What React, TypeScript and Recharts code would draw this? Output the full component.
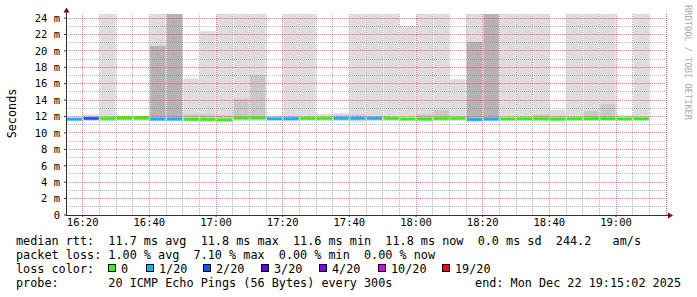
import React from 'react';
import { ComposedChart, Bar, Cell, XAxis, YAxis, ReferenceLine, CartesianGrid } from 'recharts';

const MONO = '"DejaVu Sans Mono", monospace';

// start of each 5 minute step, the last one has no sample yet
const slotStart = [
  '16:15', '16:20', '16:25', '16:30', '16:35', '16:40', '16:45', '16:50', '16:55',
  '17:00', '17:05', '17:10', '17:15', '17:20', '17:25', '17:30', '17:35', '17:40', '17:45', '17:50', '17:55',
  '18:00', '18:05', '18:10', '18:15', '18:20', '18:25', '18:30', '18:35', '18:40', '18:45', '18:50', '18:55',
  '19:00', '19:05', '19:10',
];

// median rtt (ms)
const median = [
  11.72, 11.8, 11.78, 11.82, 11.82, 11.72, 11.72, 11.68, 11.66,
  11.62, 11.84, 11.84, 11.76, 11.76, 11.8, 11.8, 11.8, 11.8, 11.8, 11.8, 11.74,
  11.72, 11.78, 11.8, 11.66, 11.72, 11.75, 11.76, 11.75, 11.72, 11.76, 11.76, 11.76,
  11.74, 11.76, null,
];

// lost pings out of 20
const lostPings = [
  1, 2, 0, 0, 0, 1, 1, 0, 0,
  0, 0, 0, 1, 1, 0, 0, 1, 1, 1, 0, 0,
  0, 0, 0, 1, 1, 0, 0, 0, 0, 0, 0, 0,
  0, 0, null,
];

// smoke: fastest ping, slowest ping (clipped at graph top), top of the denser bands
const smokeLow = [
  11.45, 11.5, 11.4, 11.5, 11.5, 11.45, 11.45, 11.45, 11.4,
  11.35, 11.5, 11.5, 11.5, 11.4, 11.5, 11.5, 11.5, 11.4, 11.5, 11.5, 11.45,
  11.4, 11.5, 11.5, 11.4, 11.45, 11.45, 11.5, 11.4, 11.4, 11.5, 11.5, 11.5,
  11.5, 11.5, null,
];
const smokeHigh = [
  11.95, 12.2, 24.5, 12.0, 12.0, 24.5, 24.5, 16.6, 22.4,
  24.5, 24.5, 24.5, 12.0, 24.5, 24.5, 12.3, 12.4, 24.5, 24.5, 24.5, 23.05,
  24.5, 24.5, 16.5, 24.5, 24.5, 24.5, 24.5, 24.5, 12.8, 24.5, 24.5, 24.5,
  12.1, 24.5, null,
];
const denseTop = [
  null, null, null, null, null, null, null, 12.3, 12.3,
  12.2, 14.15, 17.1, null, 12.05, null, null, 12.2, 12.3, 12.1, null, null,
  12.3, 12.8, null, null, null, null, null, 12.3, 12.1, null, 12.75, 13.55,
  null, null, null,
];
const heavyTop = [
  null, null, null, null, null, 20.65, 24.5, null, null,
  null, null, null, null, null, null, null, null, null, null, null, null,
  null, null, null, 21.15, 24.5, null, null, null, null, null, null, null,
  null, null, null,
];

const xTickLabels = ['16:20', '16:40', '17:00', '17:20', '17:40', '18:00', '18:20', '18:40', '19:00'];
const yTickValues = [0, 2, 4, 6, 8, 10, 12, 14, 16, 18, 20, 22, 24];

const lossSteps = [0, 1, 2, 3, 4, 10, 19];
const lossLabels = ['0', '1/20', '2/20', '3/20', '4/20', '10/20', '19/20'];
const lossColors = ['#26ff00', '#00b8ff', '#0059ff', '#5e00ff', '#7e00ff', '#dd00ff', '#ff0000'];

const LIGHT = '#dddddd';
const DENSE = '#c8c8c8';
const HEAVY = '#b4b4b4';
const AXIS = '#333333';
const MAJOR = 'rgba(255,0,0,0.45)';
const MINOR = 'rgba(128,128,128,0.55)';
const STEP = 5;
const HALF = 0.18; // half thickness of the median line in ms

const toMin = (s: string) => {
  const [h, m] = s.split(':').map(Number);
  return h * 60 + m;
};
const fmtMin = (m: number) => `${Math.floor(m / 60)}:${String(m % 60).padStart(2, '0')}`;

const lossColor = (n: number) => {
  let idx = 0;
  lossSteps.forEach((s, i) => {
    if (n >= s) idx = i;
  });
  return lossColors[idx];
};

const slotMin = slotStart.map(toMin);
const tStart = slotMin[0];
const tEnd = slotMin[slotMin.length - 1] + STEP;
const majorX = xTickLabels.map(toMin);

const rows = slotStart.map((_, i) => {
  const t = slotMin[i] + STEP / 2;
  const m = median[i];
  if (m == null) return { t };
  const lo = smokeLow[i] as number;
  const mTop = m + HALF;
  const hv = Math.max(heavyTop[i] ?? mTop, mTop);
  const dn = Math.max(denseTop[i] ?? hv, hv);
  const top = Math.max(smokeHigh[i] as number, dn);
  return {
    t,
    base: lo,
    under: m - HALF - lo,
    med: 2 * HALF,
    heavy: hv - mTop,
    dense: dn - hv,
    light: top - dn,
    color: lossColor(lostPings[i] as number),
  };
});

// minor vertical grid every step, except where a labelled (major) line sits
const minorX = [...slotMin.slice(1), tEnd].filter((v) => !majorX.includes(v));
const hGrid = Array.from({ length: 24 }, (_, k) => k + 1);

const CHART_W = 697;
const CHART_H = 297;
const LEFT = 66;
const RIGHT = 31;
const barW = (CHART_W - LEFT - RIGHT) / slotStart.length;

const tickStyle = { fill: '#000', fontSize: 10.5, fontFamily: MONO };
const legendStyle = { fill: '#000', fontSize: 11.8, fontFamily: MONO, whiteSpace: 'pre' as const };

// rrdtool puts its dotted grid on whole pixels, snap the line the scale gives us
const dottedLine = (color: string) => (p: any) => {
  const vertical = Math.abs(p.x1 - p.x2) < 0.01;
  const x1 = vertical ? Math.floor(p.x1) + 0.5 : p.x1;
  const x2 = vertical ? Math.floor(p.x2) + 0.5 : p.x2;
  const y1 = vertical ? p.y1 : Math.floor(p.y1) + 0.5;
  const y2 = vertical ? p.y2 : Math.floor(p.y2) + 0.5;
  return (
    <line
      key={p.key ?? `${x1}-${y1}`}
      x1={x1}
      y1={y1}
      x2={x2}
      y2={y2}
      stroke={color}
      strokeWidth={1}
      strokeDasharray="1 1"
    />
  );
};

export default function App() {
  const boxX = [108, 146, 203, 261, 319, 378, 442];

  return (
    <div style={{ position: 'absolute', left: 0, top: 0, width: CHART_W, height: CHART_H, background: '#fff' }}>
      <ComposedChart
        width={CHART_W}
        height={CHART_H}
        data={rows}
        margin={{ top: 14, right: RIGHT, bottom: 52, left: 0 }}
        barCategoryGap={0}
        barGap={0}
        barSize={barW}
      >
        <XAxis
          dataKey="t"
          type="number"
          domain={[tStart, tEnd]}
          allowDataOverflow
          ticks={majorX}
          tickFormatter={fmtMin}
          interval={0}
          axisLine={false}
          tickLine={{ stroke: AXIS }}
          tickSize={2}
          tickMargin={2}
          tick={tickStyle}
          height={30}
        />
        <XAxis
          xAxisId="minor"
          dataKey="t"
          type="number"
          domain={[tStart, tEnd]}
          allowDataOverflow
          ticks={minorX}
          interval={0}
          hide
        />
        <YAxis
          type="number"
          domain={[0, 24.5]}
          allowDataOverflow
          ticks={yTickValues}
          tickFormatter={(v: number) => (v === 0 ? '0' : `${v} m`)}
          interval={0}
          axisLine={false}
          tickLine={{ stroke: AXIS }}
          tickSize={2}
          tickMargin={4}
          tick={tickStyle}
          width={LEFT}
        />
        <Bar dataKey="base" stackId="s" fill="transparent" isAnimationActive={false} />
        <Bar dataKey="under" stackId="s" fill={LIGHT} stroke={LIGHT} strokeWidth={0.6} isAnimationActive={false} />
        <Bar dataKey="med" stackId="s" isAnimationActive={false}>
          {rows.map((r, i) => (
            <Cell key={i} fill={(r as any).color} stroke={(r as any).color} strokeWidth={0.4} />
          ))}
        </Bar>
        <Bar dataKey="heavy" stackId="s" fill={HEAVY} stroke={HEAVY} strokeWidth={0.6} isAnimationActive={false} />
        <Bar dataKey="dense" stackId="s" fill={DENSE} stroke={DENSE} strokeWidth={0.6} isAnimationActive={false} />
        <Bar dataKey="light" stackId="s" fill={LIGHT} stroke={LIGHT} strokeWidth={0.6} isAnimationActive={false} />
        <CartesianGrid xAxisId="minor" horizontal={false} vertical={dottedLine(MINOR)} zIndex={350} />
        <CartesianGrid horizontal={false} vertical={dottedLine(MAJOR)} zIndex={351} />
        {hGrid.map((v) => (
          <ReferenceLine key={`h${v}`} y={v} shape={dottedLine(v % 2 === 0 ? MAJOR : MINOR)} zIndex={352} />
        ))}
      </ComposedChart>

      <svg
        width={CHART_W}
        height={CHART_H}
        style={{ position: 'absolute', left: 0, top: 0, pointerEvents: 'none' }}
      >
        {/* axes with arrow heads */}
        <line x1={66.5} y1={215.5} x2={66.5} y2={11} stroke={AXIS} />
        <line x1={66} y1={215.5} x2={670} y2={215.5} stroke={AXIS} />
        <polygon points="63.5,12.5 69.5,12.5 66.5,7.5" fill="#800000" />
        <polygon points="668,212.5 668,218.5 673,215.5" fill="#800000" />

        <text transform="translate(15.5,113.5) rotate(-90)" textAnchor="middle" style={legendStyle}>
          Seconds
        </text>
        <text
          transform="translate(684.5,5) rotate(90)"
          style={{ fill: '#aaaaaa', fontSize: 8.7, fontFamily: MONO, whiteSpace: 'pre' }}
        >
          RRDTOOL / TOBI OETIKER
        </text>

        <text x={16} y={245} style={legendStyle}>
          {'median rtt:  11.7 ms avg  11.8 ms max  11.6 ms min  11.8 ms now  0.0 ms sd  244.2   am/s'}
        </text>
        <text x={16} y={259} style={legendStyle}>
          {'packet loss: 1.00 % avg  7.10 % max  0.00 % min  0.00 % now'}
        </text>
        <text x={16} y={273} style={legendStyle}>loss color:</text>
        {lossLabels.map((lab, i) => (
          <g key={lab}>
            <rect x={boxX[i] + 0.5} y={264.5} width={7} height={7} fill={lossColors[i]} stroke="#000" />
            <text x={boxX[i] + 13} y={273} style={legendStyle}>{lab}</text>
          </g>
        ))}
        <text x={16} y={287} style={legendStyle}>
          {'probe:       20 ICMP Echo Pings (56 Bytes) every 300s'}
        </text>
        <text x={681} y={287} textAnchor="end" style={legendStyle}>end: Mon Dec 22 19:15:02 2025</text>
      </svg>
    </div>
  );
}
